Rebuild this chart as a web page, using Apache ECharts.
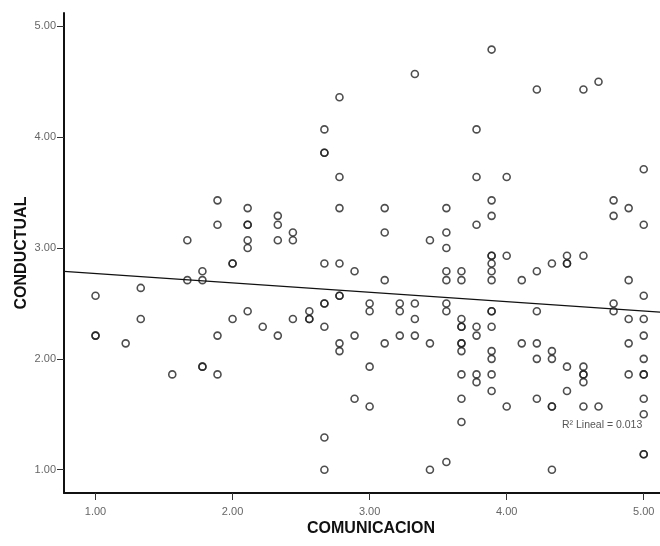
<!DOCTYPE html>
<html>
<head>
<meta charset="utf-8">
<script src="https://cdn.jsdelivr.net/npm/echarts@6/dist/echarts.min.js"></script>
<style>
  html, body { margin: 0; padding: 0; background: #fff; }
  #main { width: 660px; height: 546px; }
</style>
</head>
<body>
<div id="main"></div>
<script>
// COMUNICACION values (x), one entry per column of points
var comunicacionLevels = [1.00, 1.22, 1.33, 1.56, 1.67, 1.78, 1.89, 2.00, 2.11, 2.22, 2.33, 2.44, 2.56, 2.67, 2.78, 2.89,
    3.00, 3.11, 3.22, 3.33, 3.44, 3.56, 3.67, 3.78, 3.89, 4.00, 4.11, 4.22, 4.33, 4.44, 4.56, 4.67, 4.78, 4.89, 5.00];
// CONDUCTUAL values (y) for each column above
var conductualByLevel = [
    [2.57, 2.21, 2.21],
    [2.14],
    [2.64, 2.36],
    [1.86],
    [3.07, 2.71],
    [2.79, 2.71, 1.93, 1.93],
    [3.43, 3.21, 2.21, 1.86],
    [2.86, 2.86, 2.36],
    [3.36, 3.21, 3.21, 3.07, 3.00, 2.43],
    [2.29],
    [3.29, 3.21, 3.07, 2.21],
    [3.14, 3.07, 2.36],
    [2.43, 2.36, 2.36],
    [4.07, 3.86, 3.86, 2.86, 2.50, 2.50, 2.29, 1.29, 1.00],
    [4.36, 3.64, 3.36, 2.86, 2.57, 2.57, 2.14, 2.07],
    [2.79, 2.21, 1.64],
    [2.50, 2.43, 1.93, 1.57],
    [3.36, 3.14, 2.71, 2.14],
    [2.50, 2.43, 2.21],
    [4.57, 2.50, 2.36, 2.21],
    [3.07, 2.14, 1.00],
    [3.36, 3.14, 3.00, 2.79, 2.71, 2.50, 2.43, 1.07],
    [2.79, 2.71, 2.36, 2.29, 2.29, 2.14, 2.14, 2.07, 1.86, 1.64, 1.43],
    [4.07, 3.64, 3.21, 2.29, 2.21, 1.86, 1.79],
    [4.79, 3.43, 3.29, 2.93, 2.93, 2.86, 2.79, 2.71, 2.43, 2.43, 2.29, 2.07, 2.00, 1.86, 1.71],
    [3.64, 2.93, 1.57],
    [2.71, 2.14],
    [4.43, 2.79, 2.43, 2.14, 2.00, 1.64],
    [2.86, 2.07, 2.00, 1.57, 1.57, 1.00],
    [2.93, 2.86, 2.86, 1.93, 1.71],
    [4.43, 2.93, 1.93, 1.86, 1.86, 1.79, 1.57],
    [4.50, 1.57],
    [3.43, 3.29, 2.50, 2.43],
    [3.36, 2.71, 2.36, 2.14, 1.86],
    [3.71, 3.21, 2.57, 2.36, 2.21, 2.00, 1.86, 1.86, 1.64, 1.50, 1.14, 1.14]
];
var tickValues = [1, 2, 3, 4, 5];
// linea de ajuste (R2 Lineal = 0.013)
var fitIntercept = 2.855;
var fitSlope = -0.0845;
var r2Text = 'R\u00B2 Lineal = 0.013';

// el grafico original esta recortado a la derecha, el eje x sigue un poco mas alla
var xMin = 0.77, xMax = 5.25;
var yMin = 0.79, yMax = 5.12;

var points = [];
for (var i = 0; i < comunicacionLevels.length; i++) {
    for (var j = 0; j < conductualByLevel[i].length; j++) {
        points.push([comunicacionLevels[i], conductualByLevel[i][j]]);
    }
}
var fitLine = [
    [xMin, fitIntercept + fitSlope * xMin],
    [xMax, fitIntercept + fitSlope * xMax]
];

function axisStyle(name, min, max, gap, labelMargin) {
    return {
        type: 'value',
        min: min,
        max: max,
        name: name,
        nameLocation: 'middle',
        nameGap: gap,
        nameMoveOverlap: false,
        nameTextStyle: { fontFamily: 'Liberation Sans', fontWeight: 'bold', fontSize: 16, color: '#111' },
        axisLine: { show: true, lineStyle: { color: '#111', width: 2 } },
        axisTick: { show: true, length: 7, customValues: tickValues, lineStyle: { color: '#333', width: 1 } },
        axisLabel: {
            customValues: tickValues,
            fontFamily: 'Liberation Sans',
            fontSize: 11,
            color: '#666',
            margin: labelMargin,
            formatter: function (v) { return v.toFixed(2); }
        },
        splitLine: { show: false }
    };
}

var option = {
    animation: false,
    backgroundColor: '#fff',
    grid: { left: 64, width: 614, top: 13, bottom: 53, outerBoundsMode: 'none', containLabel: false },
    xAxis: axisStyle('COMUNICACION', xMin, xMax, 28, 13),
    yAxis: axisStyle('CONDUCTUAL', yMin, yMax, 34, 8),
    graphic: [{
        type: 'text',
        left: 562,
        top: 420,
        style: { text: r2Text, font: '10.5px "Liberation Sans"', fill: '#555' }
    }],
    series: [
        {
            type: 'scatter',
            data: points,
            symbol: 'circle',
            symbolSize: 7,
            itemStyle: { color: 'rgba(0,0,0,0)', borderColor: '#222', borderWidth: 1.6 }
        },
        {
            type: 'line',
            data: fitLine,
            symbol: 'none',
            lineStyle: { color: '#111', width: 1.2 },
            z: 3
        }
    ]
};

var chart = echarts.init(document.getElementById('main'));
chart.setOption(option);
</script>
</body>
</html>
